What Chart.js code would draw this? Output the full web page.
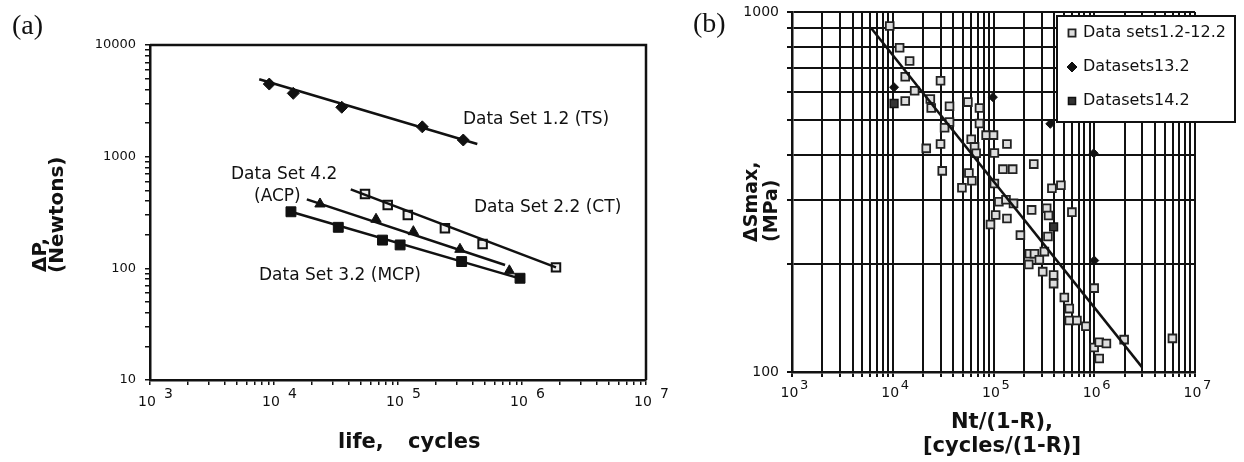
<!DOCTYPE html>
<html>
<head>
<meta charset="utf-8">
<script src="https://cdn.jsdelivr.net/npm/chart.js@4.4.1/dist/chart.umd.min.js"></script>
<style>
  body { margin: 0; background: #fff; width: 1244px; height: 462px; position: relative; overflow: hidden; }
  #chartA { position: absolute; left: 0; top: 0; }
  #chartB { position: absolute; left: 680px; top: 0; }
</style>
</head>
<body>
<canvas id="chartA" width="680" height="462"></canvas>
<canvas id="chartB" width="564" height="462"></canvas>
<script>
// ---- panel (a): load range vs life ----
var tsLife = [9160, 14300, 35200, 157000, 336000];
var tsLoad = [4470, 3690, 2770, 1850, 1410];
var tsFitLife = [7600, 436000];
var tsFitLoad = [4930, 1300];

var ctLife = [54200, 82600, 120000, 239000, 481000, 1880000];
var ctLoad = [464, 369, 300, 229, 165, 102];
var ctFitLife = [41600, 1880000];
var ctFitLoad = [510, 102];

var acpLife = [23500, 66500, 133000, 316000, 791000];
var acpLoad = [377, 275, 213, 148, 95];
var acpFitLife = [18400, 730000];
var acpFitLoad = [415, 107];

var mcpLife = [13700, 33000, 75000, 104000, 326000, 964000];
var mcpLoad = [321, 233, 179, 162, 115, 81.5];
var mcpFitLife = [13700, 1000000];
var mcpFitLoad = [321, 80];

var yLabelsA = [10, 100, 1000, 10000];
var xExpA = [3, 4, 5, 6, 7];
var notesA = [
  { text: 'Data Set 1.2 (TS)', x: 334000, y: 2130 },
  { text: 'Data Set 2.2 (CT)', x: 410000, y: 347 },
  { text: 'Data Set 4.2', x: 4500, y: 686 },
  { text: '(ACP)', x: 6900, y: 435 },
  { text: 'Data Set 3.2 (MCP)', x: 7570, y: 85.3 }
];

// ---- panel (b): normalised stress range vs life ----
var setALife = [9330, 11700, 14700, 13300, 16500, 13300, 29800, 23600, 24100, 36600, 55700, 72600,
  36600, 32700, 72600, 84500, 100000, 60100, 64900, 21500, 29800, 67300, 102000, 136000,
  31000, 57000, 61000, 48600, 124000, 155000, 251000, 102000, 113000, 133000, 158000, 105000,
  93300, 136000, 185000, 239000, 337000, 352000, 347000, 380000, 467000, 600000, 227000, 255000,
  224000, 285000, 320000, 308000, 395000, 395000, 505000, 565000, 565000, 673000, 826000, 998000,
  998000, 1120000, 1320000, 1120000, 1980000, 5970000];
var setAStress = [914, 796, 731, 661, 604, 566, 644, 573, 541, 547, 562, 541,
  495, 477, 490, 455, 455, 443, 422, 418, 430, 405, 406, 430,
  362, 357, 340, 325, 366, 366, 378, 334, 297, 301, 294, 273,
  257, 267, 240, 282, 285, 272, 238, 324, 330, 278, 213, 213,
  199, 205, 216, 190, 186, 176, 161, 150, 139, 139, 134, 171,
  117, 121, 120, 109, 123, 124];
var set13Life = [10300, 98600, 366000, 988000, 1000000];
var set13Stress = [618, 580, 489, 405, 204];
var set14Life = [10300, 395000];
var set14Stress = [557, 253];
var fitBLife = [6150, 2990000];
var fitBStress = [900, 103];

var yLabelsB = [100, 1000];
var xExpB = [3, 4, 5, 6, 7];

function pts(xs, ys) {
  return xs.map(function (v, i) { return { x: v, y: ys[i] }; });
}

function logTicks(min, max) {
  var t = [];
  for (var e = Math.round(Math.log10(min)); e < Math.round(Math.log10(max)); e++) {
    for (var m = 1; m < 10; m++) t.push({ value: m * Math.pow(10, e), major: m === 1 });
  }
  t.push({ value: max, major: true });
  return t;
}

function drawPow(ctx, px, py, exp, baseFont, supFont, dx, sx, rise) {
  ctx.textBaseline = 'middle';
  ctx.font = baseFont;
  ctx.textAlign = 'center';
  ctx.fillText('10', px + dx, py);
  ctx.font = supFont;
  ctx.textAlign = 'left';
  ctx.fillText(String(exp), px + sx, py - rise);
}

function rotText(ctx, text, x, y) {
  ctx.save();
  ctx.translate(x, y);
  ctx.rotate(-Math.PI / 2);
  ctx.textAlign = 'left';
  ctx.textBaseline = 'middle';
  ctx.fillText(text, 0, 0);
  ctx.restore();
}

var panelA = {
  id: 'panelA',
  afterDraw: function (chart) {
    var ctx = chart.ctx, a = chart.chartArea, x = chart.scales.x, y = chart.scales.y;
    ctx.save();
    ctx.strokeStyle = '#111';
    ctx.lineWidth = 2.5;
    ctx.beginPath();
    ctx.moveTo(a.left, a.top);
    ctx.lineTo(a.right, a.top);
    ctx.lineTo(a.right, a.bottom);
    ctx.stroke();

    ctx.fillStyle = '#111';
    ctx.font = '13px "DejaVu Sans"';
    ctx.textAlign = 'right';
    ctx.textBaseline = 'middle';
    yLabelsA.forEach(function (v) { ctx.fillText(String(v), a.left - 14, y.getPixelForValue(v)); });

    xExpA.forEach(function (e) {
      drawPow(ctx, x.getPixelForValue(Math.pow(10, e)), a.bottom + 22, e,
        '14px "DejaVu Sans"', '14px "DejaVu Sans"', -3, 14, 8);
    });

    ctx.font = '17px "DejaVu Sans"';
    ctx.textAlign = 'left';
    ctx.textBaseline = 'middle';
    notesA.forEach(function (n) { ctx.fillText(n.text, x.getPixelForValue(n.x), y.getPixelForValue(n.y)); });

    ctx.font = 'bold 21px "DejaVu Sans"';
    ctx.fillText('life,', 338, 443);
    ctx.fillText('cycles', 408, 443);
    ctx.font = 'bold 20px "DejaVu Sans"';
    rotText(ctx, '\u0394P,', 41, 272);
    rotText(ctx, '(Newtons)', 58, 273);

    ctx.font = '28px "Liberation Serif"';
    ctx.textAlign = 'left';
    ctx.fillText('(a)', 12, 27);
    ctx.restore();
  }
};

var panelB = {
  id: 'panelB',
  afterDraw: function (chart) {
    var ctx = chart.ctx, a = chart.chartArea, x = chart.scales.x, y = chart.scales.y;
    ctx.save();
    ctx.fillStyle = '#111';
    ctx.font = '14px "DejaVu Sans"';
    ctx.textAlign = 'right';
    ctx.textBaseline = 'middle';
    yLabelsB.forEach(function (v) { ctx.fillText(String(v), a.left - 13, y.getPixelForValue(v)); });

    xExpB.forEach(function (e) {
      drawPow(ctx, x.getPixelForValue(Math.pow(10, e)), a.bottom + 21, e,
        '14px "DejaVu Sans"', '13px "DejaVu Sans"', -2.5, 8, 7);
    });

    ctx.font = 'bold 21px "DejaVu Sans"';
    ctx.textAlign = 'center';
    ctx.textBaseline = 'middle';
    ctx.fillText('Nt/(1-R),', 322, 423);
    ctx.fillText('[cycles/(1-R)]', 322, 447);
    ctx.font = 'bold 19px "DejaVu Sans"';
    rotText(ctx, '\u0394Smax,', 72, 242);
    rotText(ctx, '(MPa)', 92, 242);

    ctx.font = '28px "Liberation Serif"';
    ctx.textAlign = 'left';
    ctx.fillText('(b)', 13, 25);

    // legend box
    var bx = 377, by = 16, bw = 178, bh = 106;
    ctx.fillStyle = '#fff';
    ctx.fillRect(bx, by, bw, bh);
    ctx.strokeStyle = '#111';
    ctx.lineWidth = 2;
    ctx.strokeRect(bx, by, bw, bh);
    var rows = [17, 51, 85];
    chart.data.datasets.forEach(function (ds, i) {
      if (!ds.label) return;
      var ry = by + rows[ds.legendRow];
      ctx.fillStyle = ds.backgroundColor;
      ctx.strokeStyle = ds.borderColor;
      ctx.lineWidth = ds.borderWidth;
      Chart.helpers.drawPoint(ctx, { pointStyle: ds.pointStyle, radius: ds.legendRadius, rotation: 0, borderWidth: ds.borderWidth }, bx + 15, ry);
      ctx.fillStyle = '#111';
      ctx.font = '16px "DejaVu Sans"';
      ctx.textAlign = 'left';
      ctx.textBaseline = 'middle';
      ctx.fillText(ds.label, bx + 26, ry);
    });
    ctx.restore();
  }
};

function lineSet(xs, ys, w) {
  return { data: pts(xs, ys), showLine: true, borderColor: '#111', borderWidth: w, pointRadius: 0, fill: false };
}

function axisA(min, max, size, isY) {
  return {
    type: 'logarithmic',
    min: min,
    max: max,
    afterBuildTicks: function (s) { s.ticks = logTicks(min, max); },
    afterFit: function (s) { if (isY) s.width = size; else s.height = size; },
    ticks: { display: false },
    grid: { drawOnChartArea: false, drawTicks: true, tickLength: 5, color: '#111', lineWidth: 1.5 },
    border: { display: true, color: '#111', width: 2.5 }
  };
}

function axisB(min, max, size, isY) {
  return {
    type: 'logarithmic',
    min: min,
    max: max,
    afterBuildTicks: function (s) { s.ticks = logTicks(min, max); },
    afterFit: function (s) { if (isY) s.width = size; else s.height = size; },
    ticks: { display: false },
    grid: { drawOnChartArea: true, drawTicks: true, tickLength: 5, color: '#111', lineWidth: 2 },
    border: { display: true, color: '#111', width: 2.5 }
  };
}

new Chart(document.getElementById('chartA'), {
  type: 'scatter',
  data: {
    datasets: [
      lineSet(tsFitLife, tsFitLoad, 2.5),
      lineSet(ctFitLife, ctFitLoad, 2.5),
      lineSet(acpFitLife, acpFitLoad, 2.5),
      lineSet(mcpFitLife, mcpFitLoad, 2.5),
      { data: pts(tsLife, tsLoad), pointStyle: 'rectRot', pointRadius: 6, backgroundColor: '#111', borderColor: '#111', borderWidth: 1 },
      { data: pts(ctLife, ctLoad), pointStyle: 'rect', pointRadius: 6, backgroundColor: '#eee', borderColor: '#111', borderWidth: 2 },
      { data: pts(acpLife, acpLoad), pointStyle: 'triangle', pointRadius: 6, backgroundColor: '#111', borderColor: '#111', borderWidth: 1 },
      { data: pts(mcpLife, mcpLoad), pointStyle: 'rect', pointRadius: 7, backgroundColor: '#111', borderColor: '#111', borderWidth: 1 }
    ]
  },
  options: {
    responsive: false,
    animation: false,
    layout: { padding: { top: 45, right: 34, left: 0, bottom: 0 } },
    plugins: { legend: { display: false }, tooltip: { enabled: false } },
    scales: {
      x: axisA(1000, 10000000, 82, false),
      y: axisA(10, 10000, 150, true)
    }
  },
  plugins: [panelA]
});

new Chart(document.getElementById('chartB'), {
  type: 'scatter',
  data: {
    datasets: [
      lineSet(fitBLife, fitBStress, 2.5),
      { label: 'Data sets1.2-12.2', legendRow: 0, legendRadius: 5, data: pts(setALife, setAStress), pointStyle: 'rect', pointRadius: 5.5, backgroundColor: '#ddd', borderColor: '#222', borderWidth: 1.8 },
      { label: 'Datasets13.2', legendRow: 1, legendRadius: 5, data: pts(set13Life, set13Stress), pointStyle: 'rectRot', pointRadius: 4.5, backgroundColor: '#111', borderColor: '#111', borderWidth: 1 },
      { label: 'Datasets14.2', legendRow: 2, legendRadius: 5, data: pts(set14Life, set14Stress), pointStyle: 'rect', pointRadius: 5.5, backgroundColor: '#333', borderColor: '#111', borderWidth: 1.5 }
    ]
  },
  options: {
    responsive: false,
    animation: false,
    layout: { padding: { top: 12, right: 49, left: 0, bottom: 0 } },
    plugins: { legend: { display: false }, tooltip: { enabled: false } },
    scales: {
      x: axisB(1000, 10000000, 90, false),
      y: axisB(100, 1000, 112, true)
    }
  },
  plugins: [panelB]
});
</script>
</body>
</html>
